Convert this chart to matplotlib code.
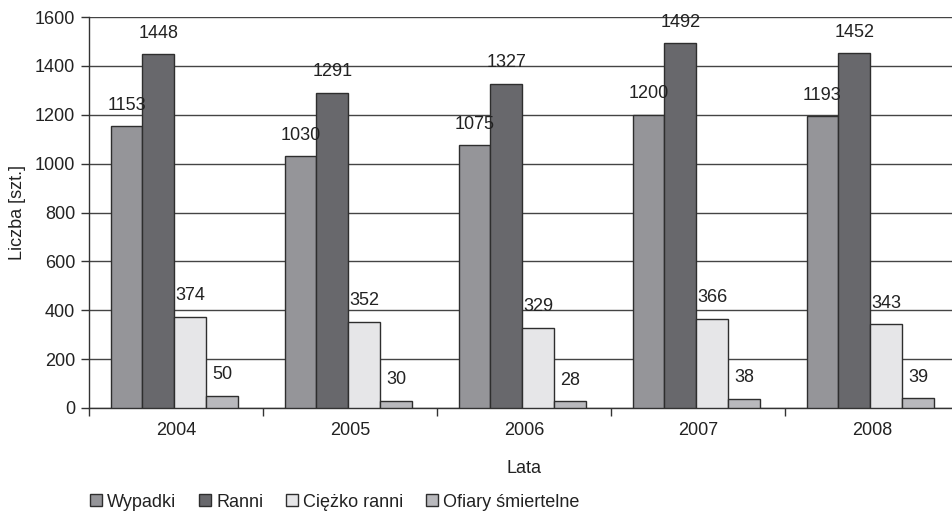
import matplotlib
matplotlib.use("Agg")
import matplotlib.pyplot as plt
import numpy as np
from matplotlib.lines import Line2D

plt.rcParams['font.family'] = ['Liberation Sans', 'DejaVu Sans']

years = ["2004", "2005", "2006", "2007", "2008"]
series_names = ["Wypadki", "Ranni", "Ciężko ranni", "Ofiary śmiertelne"]
wypadki = [1153, 1030, 1075, 1200, 1193]
ranni = [1448, 1291, 1327, 1492, 1452]
ciezko_ranni = [374, 352, 329, 366, 343]
ofiary = [50, 30, 28, 38, 39]
colors = ["#959599", "#68686c", "#e6e6e8", "#b9b9bd"]

series = [wypadki, ranni, ciezko_ranni, ofiary]
FS = 13

fig = plt.figure(figsize=(9.52, 5.12), dpi=100)
ax = fig.add_axes([89/952, 104/512, 870/952, 391/512])

x = np.arange(len(years))
w = 0.183
offsets = [-1.5, -0.5, 0.5, 1.5]
for vals, off, col in zip(series, offsets, colors):
    bars = ax.bar(x + off * w - 0.01, vals, width=w, color=col,
                  edgecolor="#2e2e2e", linewidth=1.0, zorder=3)
    for b, v in zip(bars, vals):
        ax.annotate(str(v), (b.get_x() + b.get_width() / 2, v),
                    xytext=(0, 9), textcoords="offset points",
                    ha="center", va="bottom", fontsize=FS, color="#222222",
                    zorder=4)

ax.set_xlim(-0.5, len(years) - 0.5)
ax.set_ylim(0, 1600)
ax.set_yticks(np.arange(0, 1601, 200))
ax.yaxis.grid(True, color="#444444", linewidth=1.0, zorder=0)
ax.set_axisbelow(True)

ax.set_xticks(np.arange(-0.5, len(years), 1.0))
ax.set_xticklabels([])
ax.set_xticks(x, minor=True)
ax.set_xticklabels(years, minor=True)
ax.tick_params(axis="x", which="major", length=6, width=1, color="#333333", direction="out")
ax.tick_params(axis="x", which="minor", length=0, pad=10, labelsize=FS, labelcolor="#222222")
ax.tick_params(axis="y", length=6, width=1, color="#333333", labelsize=FS,
               labelcolor="#222222", pad=4)

for s in ["top", "right"]:
    ax.spines[s].set_visible(False)
ax.spines["left"].set_color("#333333")
ax.spines["bottom"].set_color("#333333")
ax.spines["left"].set_linewidth(1.0)
ax.spines["bottom"].set_linewidth(1.0)

ax.set_ylabel("Liczba [szt.]", fontsize=FS, color="#222222", labelpad=6)
ax.set_xlabel("Lata", fontsize=FS, color="#222222", labelpad=15)

handles = [Line2D([], [], marker="s", linestyle="none", markersize=8,
                  markerfacecolor=c, markeredgecolor="#2e2e2e", markeredgewidth=1.0)
           for c in colors]
fig.legend(handles, series_names, loc="center left", bbox_to_anchor=(0.086, 0.019),
           ncol=4, frameon=False, fontsize=FS, handlelength=0.6, handletextpad=0.3,
           columnspacing=1.3, borderpad=0, labelcolor="#222222")

fig.savefig("out.png", dpi=100)
